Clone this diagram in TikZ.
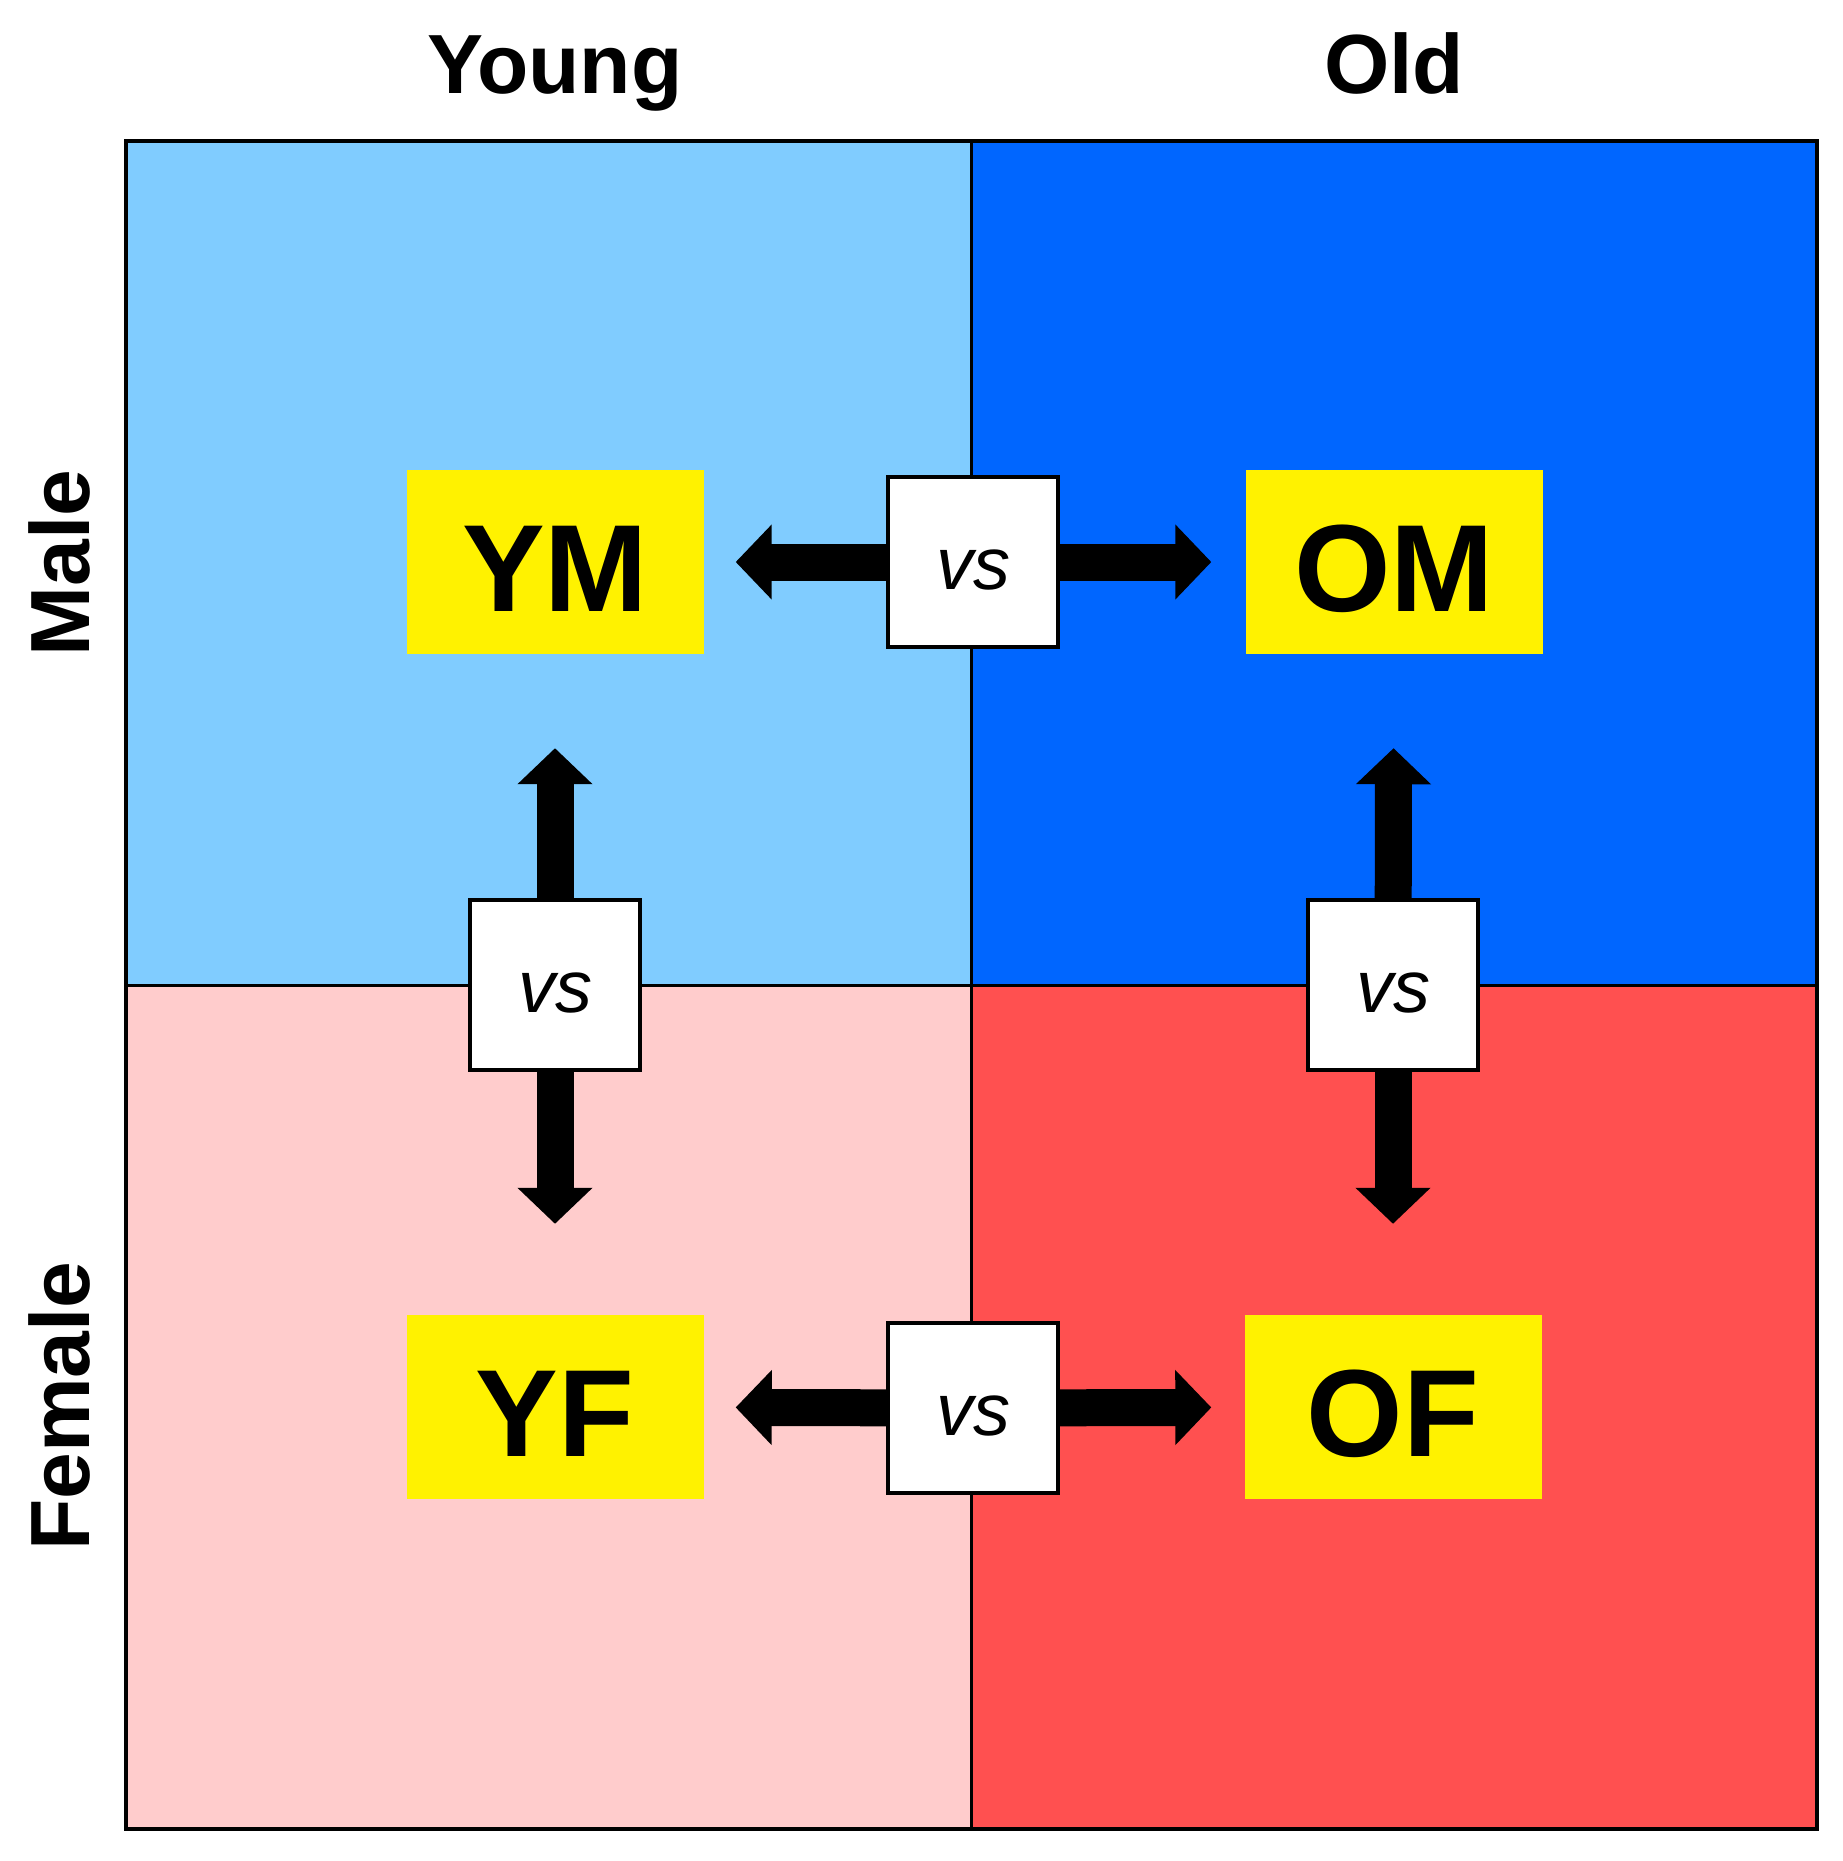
\documentclass[tikz,border=0pt]{standalone}
\usepackage{fontspec}
\setmainfont{Liberation Sans}
\usetikzlibrary{arrows.meta}

\definecolor{ymcol}{HTML}{80CCFF}
\definecolor{omcol}{HTML}{0066FF}
\definecolor{yfcol}{HTML}{FFCCCC}
\definecolor{ofcol}{HTML}{FF5050}

\begin{document}
\begin{tikzpicture}[x=1pt,y=-1pt,
  head/.style={font=\fontsize{84}{84}\selectfont\bfseries},
  group/.style={fill=yellow,minimum width=297pt,minimum height=184pt,inner sep=0pt,
    text height=98pt,text depth=0pt,font=\fontsize{124}{124}\selectfont\bfseries},
  vsbox/.style={draw,fill=white,line width=3.5pt,minimum size=170pt,inner sep=0pt,
    text height=54pt,text depth=0pt,font=\fontsize{74}{74}\selectfont\itshape},
  fat/.style={line width=37pt,-{Triangle[width=73pt,length=36pt]}}]
\useasboundingbox (0,0) rectangle (1843,1861);
% quadrants
\fill[ymcol] (126,141) rectangle (971,985);
\fill[omcol] (971,141) rectangle (1817,985);
\fill[yfcol] (126,985) rectangle (971,1829);
\fill[ofcol] (971,985) rectangle (1817,1829);
\draw[line width=3pt] (971,141) -- (971,1829);
\draw[line width=3pt] (126,985) -- (1817,985);
\draw[line width=3.5pt] (126,141) rectangle (1817,1829);
% axis labels
\node[head,anchor=base] (young) at (555,93) {Young};
\node[head,anchor=base] (old) at (1394,93) {Old};
\node[head,anchor=base,rotate=90] (male) at (89,563) {Male};
\node[head,anchor=base,rotate=90] (female) at (89,1406) {Female};
% groups
\node[group] (ym) at (555,562) {YM};
\node[group] (om) at (1394,562) {OM};
\node[group] (yf) at (555,1407) {YF};
\node[group] (of) at (1393,1407) {OF};
% comparisons
\node[vsbox] (vsm) at (973,562) {vs};
\node[vsbox] (vsf) at (973,1408) {vs};
\node[vsbox] (vsy) at (555,985) {vs};
\node[vsbox] (vso) at (1393,985) {vs};
\draw[fat,shorten >=32pt] (vsm) -- (ym);
\draw[fat,shorten >=34pt] (vsm) -- (om);
\draw[fat,shorten >=32pt] (vsf) -- (yf);
\draw[fat,shorten >=33pt] (vsf) -- (of);
\draw[fat,shorten >=94pt] (vsy) -- (ym);
\draw[fat,shorten >=91pt] (vsy) -- (yf);
\draw[fat,shorten >=94pt] (vso) -- (om);
\draw[fat,shorten >=91pt] (vso) -- (of);
\end{tikzpicture}
\end{document}
